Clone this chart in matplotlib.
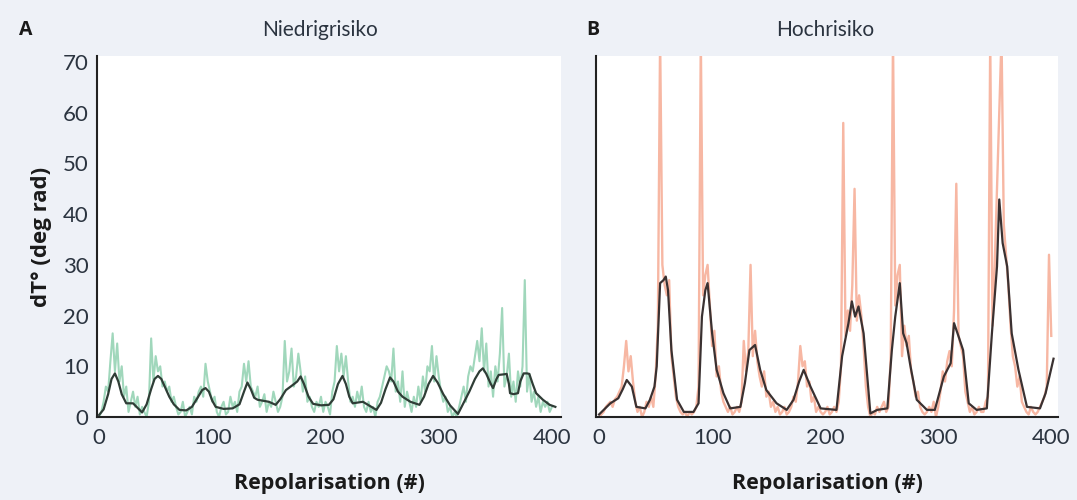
import numpy as np
import matplotlib.pyplot as plt

plt.rcParams['font.family'] = ['Lato', 'DejaVu Sans']

# raw dT values, one every 2 repolarisations (0..400)
rep_raw = np.arange(0, 401, 2)

low_raw = [
    0, 1, 3, 6, 5, 11, 16.5, 9, 14.5, 7,
    10, 4, 6, 1, 3, 5, 2, 4, 0.5, 2,
    1, 0, 3, 15.5, 7, 12, 9, 10, 6, 7,
    5, 6, 3, 4, 2, 0.5, 1, 3, 0, 1,
    2, 0.5, 4, 3, 5, 6, 4, 10.5, 7, 5,
    3, 4, 1, 0, 2, 3, 0.5, 1, 4, 2,
    3, 1, 5, 6, 10.5, 7, 11, 6, 5, 4,
    6, 2, 3, 4.5, 1, 3, 2, 5, 3, 1,
    2, 4, 15, 7, 9, 13.5, 6, 8, 12.5, 9,
    5, 8, 3, 4, 2, 1, 3, 2, 4, 1,
    3, 2, 0.5, 5, 7, 14, 9, 12.5, 8, 12,
    7, 3, 4, 2, 5, 3, 6, 2, 1, 3,
    1, 2, 0, 3, 4, 6, 8, 10, 9, 7,
    13.5, 5, 7, 3, 9, 2, 5, 3, 1, 4,
    2, 6, 3, 8, 5, 10, 9, 14, 7, 12,
    8, 5, 3, 4, 1, 2, 0, 1, 0, 2,
    4, 6, 3, 8, 10, 9, 12, 15, 11, 17.5,
    9, 14.5, 6, 9, 4, 10, 7, 12.5, 21.5, 6,
    8, 12.5, 4, 7, 3, 9, 6, 10, 27, 5,
    8.5, 3, 5, 2, 4, 1, 3, 2, 3, 1,
    2,
]

high_raw = [
    0, 0.5, 1, 2, 2.5, 3, 2, 3.5, 4, 5,
    6, 10, 15, 9, 12, 7, 3, 1, 2, 0,
    1, 3, 2, 4, 2, 8, 18, 75, 30, 26,
    24, 27, 12, 8, 4, 2, 1, 0.5, 1, 0,
    1, 0.5, 1, 2, 6, 75, 24, 28, 30, 22,
    14, 17, 8, 10, 5, 3, 2, 1, 2, 0.5,
    1, 2, 1, 3, 15, 9, 13, 30, 12, 17,
    11, 8, 6, 9, 4, 5, 2, 3, 1, 2,
    0.5, 1, 2, 0.5, 1, 2, 4, 3, 7, 14,
    10, 11, 6, 7, 3, 4, 1, 2, 1, 0.5,
    1, 2, 0.5, 1, 2, 1, 3, 10, 58, 16,
    21, 17, 26, 45, 19, 24, 20, 14, 6, 2,
    0, 1, 0.5, 2, 1, 2, 3, 1, 2, 12,
    75, 22, 28, 30, 12, 18, 14, 16, 9, 7,
    4, 5, 2, 1, 0.5, 1, 2, 1, 3, 0,
    2, 5, 9, 7, 11, 13, 10, 21, 46, 16,
    14, 12, 5, 3, 1, 2, 0.5, 1, 2, 1,
    1, 3, 4, 75, 18, 30, 45, 60, 75, 38,
    32, 26, 18, 12, 10, 6, 8, 3, 2, 1,
    0.5, 2, 1, 0.5, 1, 2, 3, 4, 6, 32,
    16,
]

# smoothed trend lines
low_trend_x = [0, 4, 8, 11, 14, 17, 20, 24, 30, 38, 42, 46, 49, 52, 55, 58,
               62, 66, 71, 77, 82, 87, 91, 94, 97, 100, 103, 110, 118, 124,
               128, 131, 134, 137, 140, 150, 156, 160, 165, 171, 175, 178,
               181, 185, 189, 196, 203, 207, 211, 215, 218, 221, 224, 233,
               245, 249, 253, 257, 260, 264, 268, 275, 283, 287, 291, 295,
               299, 304, 310, 317, 322, 327, 332, 336, 339, 342, 346, 348,
               351, 353, 357, 360, 362, 363, 366, 370, 372, 375, 378, 380,
               383, 386, 392, 398, 403]
low_trend_y = [0.4, 1.5, 4.5, 7.5, 8.6, 7, 4.5, 2.7, 2.7, 0.9, 2.5, 5.5, 7.5,
               8.1, 7.5, 6, 4, 2.5, 1.4, 1.3, 2, 3.8, 5.3, 5.7, 5, 3.2, 2,
               1.6, 1.7, 2.5, 5, 6.8, 5.5, 3.8, 3.4, 3, 2.4, 3.5, 5.3, 6.3,
               7, 8, 6.5, 4, 2.6, 2.3, 2.4, 3.5, 6.5, 8.1, 6.5, 4, 2.7, 3,
               1.4, 2.8, 5.5, 7.8, 7, 5, 4, 3, 2.4, 4, 6.5, 8.1, 6.8, 4.5,
               2.3, 0.6, 2.8, 5, 7.5, 9, 9.6, 8.5, 6.5, 5.7, 7.5, 8.3, 8.4,
               8.5, 6.5, 4.7, 4.5, 4.7, 7, 8.6, 8.6, 8.5, 6.5, 4.7, 3.4, 2.4,
               2]

high_trend_x = [0, 10, 17, 21, 24.5, 29, 33, 41, 45, 49, 51, 54, 57, 59, 61,
                64, 69, 75, 83.5, 88, 91, 94, 96, 100, 104, 110, 116, 125, 129,
                133, 138, 142.5, 148, 157, 166, 172, 177, 181, 187, 196, 210,
                215, 220.6, 223.6, 226.5, 229.5, 234, 240, 246, 255, 259, 262,
                266, 269, 272, 275, 281, 290, 297, 305, 311, 314, 318, 322, 327,
                334, 343, 347.5, 352, 354, 357, 361, 365, 371, 378.5, 390, 395,
                399, 402]
high_trend_y = [0.5, 2.7, 3.7, 5.5, 7.3, 6, 2, 1.7, 3.4, 6, 10, 26.4, 27,
                27.7, 25, 13.2, 3.4, 1, 1, 2.7, 19.8, 25, 26.4, 16.5, 9.3, 4.7,
                1.7, 2, 6.7, 13.2, 14.2, 9.3, 5.3, 2.7, 1.4, 3.4, 7, 9.3, 6,
                1.7, 1.4, 12, 18.5, 22.8, 19.8, 21.8, 16.5, 0.7, 1.4, 1.7,
                13.2, 19.8, 26.4, 16.5, 14.6, 10.6, 3.4, 1.4, 1.4, 8, 10.6,
                18.5, 15.9, 13.2, 2.7, 1.4, 1.7, 16.5, 29.7, 42.9, 34.3, 29.7,
                16.5, 9.3, 2, 1.7, 4.7, 8.6, 11.5]

panels = ['A', 'B']
titles = ['Niedrigrisiko', 'Hochrisiko']
yticks = [0, 10, 20, 30, 40, 50, 60, 70]
xticks = [0, 100, 200, 300, 400]

bg = '#eef1f7'
text_col = '#2b3440'
bold_font = ['Open Sans', 'DejaVu Sans']

fig = plt.figure(figsize=(10.77, 5.0), dpi=100, facecolor=bg)
ax1 = fig.add_axes([0.0901, 0.166, 0.4308, 0.722])
ax2 = fig.add_axes([0.5534, 0.166, 0.4290, 0.722])

ax1.plot(rep_raw, low_raw, color='#8fd0b0', lw=1.5, alpha=0.85)
ax1.plot(low_trend_x, low_trend_y, color='#2f3d36', lw=1.6)
ax2.plot(rep_raw, high_raw, color='#f5a58c', lw=1.7, alpha=0.8)
ax2.plot(high_trend_x, high_trend_y, color='#3a3131', lw=1.6)

ax1.set_xlim(-1.8, 408)
ax2.set_xlim(-2.7, 406)

for ax in (ax1, ax2):
    ax.set_ylim(0, 71.2)
    ax.set_facecolor('white')
    for s in ('top', 'right'):
        ax.spines[s].set_visible(False)
    for s in ('left', 'bottom'):
        ax.spines[s].set_color('#222222')
        ax.spines[s].set_linewidth(1.5)
    ax.set_xticks(xticks)
    ax.set_yticks(yticks)
    ax.tick_params(length=0, labelsize=16, colors=text_col)
    ax.tick_params(axis='x', pad=8)
    ax.tick_params(axis='y', pad=6)
    ax.set_xlabel('Repolarisation (#)', fontsize=15.5, fontweight='bold',
                  family=bold_font, color='#1a1a1a', labelpad=18)

ax2.set_yticklabels([])
ax1.set_ylabel('dT° (deg rad)', fontsize=16, fontweight='bold',
               family=bold_font, color='#1a1a1a', labelpad=8)

fig.text(0.297, 0.94, titles[0], ha='center', va='center', fontsize=15, color=text_col)
fig.text(0.766, 0.94, titles[1], ha='center', va='center', fontsize=15, color=text_col)
fig.text(0.024, 0.94, panels[0], ha='center', va='center', fontsize=14,
         fontweight='bold', family=bold_font, color='#1a1a1a')
fig.text(0.550, 0.94, panels[1], ha='center', va='center', fontsize=14,
         fontweight='bold', family=bold_font, color='#1a1a1a')

fig.savefig('out.png', dpi=100, facecolor=bg)
